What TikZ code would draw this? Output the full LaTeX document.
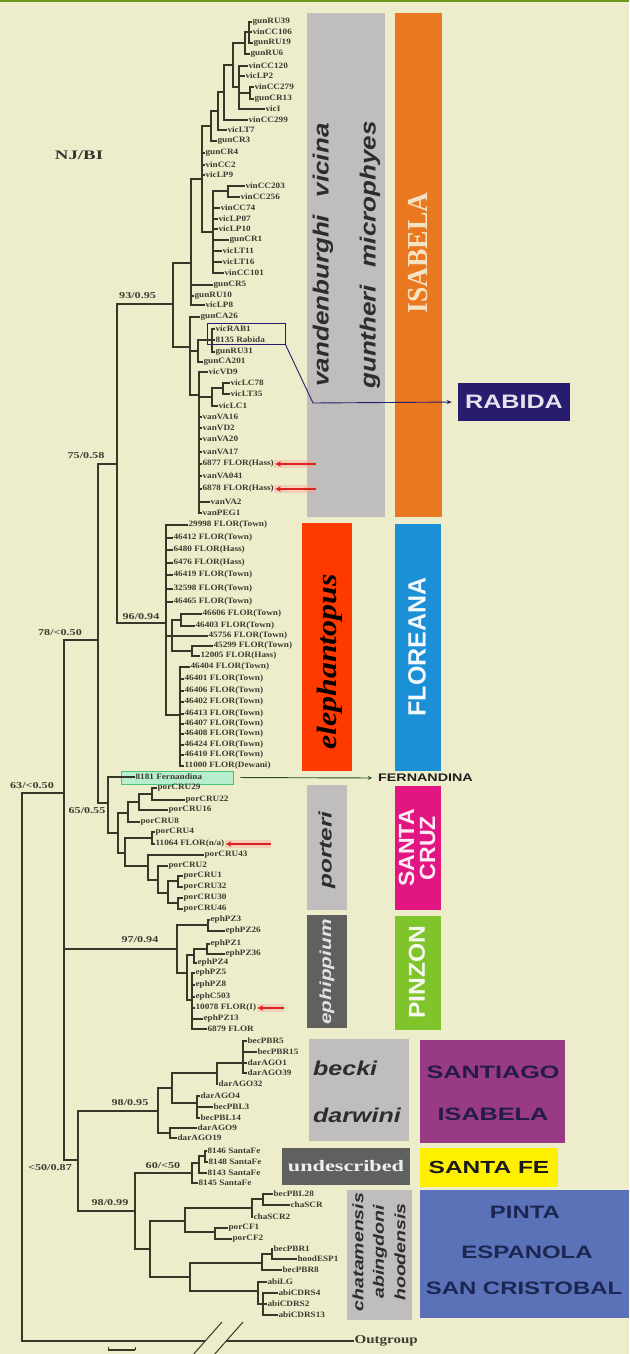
\documentclass[tikz,border=0pt]{standalone}
\usepackage{fontspec}
\usepackage{graphicx}
\usetikzlibrary{arrows.meta}
\newfontfamily\leaffont[FakeStretch=1.12]{Liberation Serif}
\newfontfamily\suppfont[FakeStretch=1.35]{Liberation Serif}
\newfontfamily\serifbig{Liberation Serif}
\newfontfamily\sansbig{Liberation Sans}
\newcommand{\st}[2]{\scalebox{#1}[1]{#2}}
\newcommand{\fsz}[1]{\fontsize{#1}{#1}\selectfont}
\newcommand{\lf}[4]{\node[leaf] (#1) at (#2,#3) {#4};}
\newcommand{\br}[2]{\foreach \c in {#2} {\draw[branch] (#1) |- (\c);}}

\definecolor{bgc}{RGB}{237,237,204}
\definecolor{treec}{RGB}{55,55,42}
\definecolor{leafc}{RGB}{60,60,48}
\definecolor{greyA}{RGB}{192,190,188}
\definecolor{orangeA}{RGB}{233,120,32}
\definecolor{redA}{RGB}{255,58,0}
\definecolor{blueA}{RGB}{28,144,214}
\definecolor{magA}{RGB}{226,22,128}
\definecolor{dgreyA}{RGB}{96,96,94}
\definecolor{greenA}{RGB}{126,196,42}
\definecolor{purpA}{RGB}{152,58,132}
\definecolor{yellowA}{RGB}{255,240,0}
\definecolor{blueB}{RGB}{92,114,184}
\definecolor{navyA}{RGB}{40,28,110}
\definecolor{creamA}{RGB}{245,228,196}
\definecolor{spc}{RGB}{45,45,45}
\definecolor{navyT}{RGB}{36,28,72}
\definecolor{navyP}{RGB}{28,38,82}
\definecolor{mintA}{RGB}{184,238,204}
\definecolor{mintB}{RGB}{70,195,125}
\definecolor{fernc}{RGB}{40,80,40}
\definecolor{redarrc}{RGB}{222,32,32}
\definecolor{topg}{RGB}{110,150,30}

\begin{document}
\begin{tikzpicture}[x=1pt,y=-1pt,
  branch/.style={treec, line width=1.5pt},
  leaf/.style={anchor=west, inner sep=0.4pt, text=leafc, font=\leaffont\bfseries\fontsize{8.2}{9}\selectfont},
  supp/.style={inner sep=0pt, text=leafc, font=\suppfont\bfseries\fontsize{9}{10}\selectfont},
  bar/.style={draw=none, inner sep=0pt},
  vtext/.style={rotate=90, inner sep=0pt},
  redarr/.style={redarrc, line width=1.3pt, -{Stealth[length=5.5pt,width=5.5pt]}, shorten >=1pt},
  glow/.style={red!40, line width=8pt, opacity=0.35, shorten >=0pt},
]
\useasboundingbox (0,0) rectangle (629,1354);
\fill[bgc] (0,0) rectangle (629,1354);
\fill[topg] (0,0) rectangle (629,2.5);

% ---------- coloured bars ----------
\node[bar, fill=greyA, minimum width=78pt, minimum height=504pt] (barVV) at (346,265) {};
\node[bar, fill=orangeA, minimum width=47pt, minimum height=504pt] (barIS) at (418.5,265) {};
\node[bar, fill=redA, minimum width=50pt, minimum height=248pt] (barEL) at (327,647) {};
\node[bar, fill=blueA, minimum width=46pt, minimum height=247pt] (barFL) at (418,647.5) {};
\node[bar, fill=greyA, minimum width=40pt, minimum height=125pt] (barPO) at (327,847.5) {};
\node[bar, fill=magA, minimum width=46pt, minimum height=124pt] (barSC) at (418,848) {};
\node[bar, fill=dgreyA, minimum width=40pt, minimum height=113pt] (barEP) at (327,971.5) {};
\node[bar, fill=greenA, minimum width=46pt, minimum height=114pt] (barPZ) at (418,973) {};
\node[bar, fill=greyA, minimum width=100pt, minimum height=102pt] (barBD) at (359,1090) {};
\node[bar, fill=purpA, minimum width=145pt, minimum height=103pt] (barSI) at (492.5,1091.5) {};
\node[bar, fill=dgreyA, minimum width=128pt, minimum height=37pt] (barUN) at (346,1166.5) {};
\node[bar, fill=yellowA, minimum width=138pt, minimum height=39pt] (barSF) at (489,1167.5) {};
\node[bar, fill=greyA, minimum width=65pt, minimum height=130pt] (barCH) at (379.5,1255) {};
\node[bar, fill=blueB, minimum width=209pt, minimum height=128pt] (barPE) at (524.5,1254) {};

% ---------- bar texts ----------
\node[vtext, text=spc, font=\sansbig\bfseries\itshape\fsz{22}] (tVV) at (323,255) {\st{1.18}{vandenburghi\hspace{15pt}vicina}};
\node[vtext, text=spc, font=\sansbig\bfseries\itshape\fsz{22}] (tGM) at (370,255) {\st{1.18}{guntheri\hspace{15pt}microphyes}};
\node[vtext, text=creamA, font=\serifbig\bfseries\fsz{29}] (tIS) at (418,253) {\st{0.95}{ISABELA}};
\node[vtext, text=black, font=\serifbig\bfseries\itshape\fsz{28}] (tEL) at (330,662) {\st{1.14}{elephantopus}};
\node[vtext, text=white!95!blueA, font=\sansbig\bfseries\fsz{25}] (tFL) at (417,647) {FLOREANA};
\node[vtext, text=spc, font=\sansbig\bfseries\itshape\fsz{18}] (tPO) at (327,850) {\st{1.35}{porteri}};
\node[vtext, align=center, text=white!92!magA, font=\sansbig\bfseries\fontsize{22}{21}\selectfont] (tSC) at (417,848) {\st{1.05}{SANTA}\\\st{1.05}{CRUZ}};
\node[vtext, text=white!82!dgreyA, font=\sansbig\bfseries\itshape\fsz{16}] (tEP) at (327,972) {\st{1.3}{ephippium}};
\node[vtext, text=white!92!greenA, font=\sansbig\bfseries\fsz{23}] (tPZ) at (417,972) {\st{1.07}{PINZON}};
\node[anchor=west, inner sep=0pt, text=spc, font=\sansbig\bfseries\itshape\fsz{20}] (tBE) at (313,1068) {\st{1.25}{becki}};
\node[anchor=west, inner sep=0pt, text=spc, font=\sansbig\bfseries\itshape\fsz{20}] (tDA) at (313,1115) {\st{1.25}{darwini}};
\node[inner sep=0pt, text=navyT, font=\sansbig\bfseries\fsz{18}] (tSA) at (493,1072) {\st{1.4}{SANTIAGO}};
\node[inner sep=0pt, text=navyT, font=\sansbig\bfseries\fsz{18}] (tIS2) at (493,1114) {\st{1.4}{ISABELA}};
\node[inner sep=0pt, text=white!90!dgreyA, font=\serifbig\bfseries\fsz{16}] (tUN) at (346,1166) {\st{1.39}{undescribed}};
\node[inner sep=0pt, text=black!90, font=\sansbig\bfseries\fsz{17.5}] (tSF) at (489,1167) {\st{1.4}{SANTA FE}};
\node[vtext, text=spc, font=\sansbig\bfseries\itshape\fsz{15}] (tCH) at (358,1252) {\st{1.3}{chatamensis}};
\node[vtext, text=spc, font=\sansbig\bfseries\itshape\fsz{15}] (tAB) at (380,1252) {\st{1.3}{abingdoni}};
\node[vtext, text=spc, font=\sansbig\bfseries\itshape\fsz{15}] (tHO) at (400,1252) {\st{1.3}{hoodensis}};
\node[inner sep=0pt, text=navyP, font=\sansbig\bfseries\fsz{18}] (tPI) at (525,1212) {\st{1.33}{PINTA}};
\node[inner sep=0pt, text=navyP, font=\sansbig\bfseries\fsz{18}] (tES) at (527,1252) {\st{1.33}{ESPANOLA}};
\node[inner sep=0pt, text=navyP, font=\sansbig\bfseries\fsz{18}] (tCR) at (524,1288) {\st{1.33}{SAN CRISTOBAL}};

% ---------- RABIDA and FERNANDINA call-outs ----------
\node[fill=navyA, inner sep=0pt, minimum width=112pt, minimum height=38pt, text=white!88!navyA, font=\sansbig\bfseries\fsz{19.5}] (RAB) at (514,402) {\st{1.29}{RABIDA}};
\node[draw=navyA, line width=0.8pt, inner sep=0pt, minimum width=78pt, minimum height=21pt] (rabsel) at (246,333.5) {};
\coordinate (rabbend) at (313,403);
\draw[navyA, line width=0.9pt, -{Stealth[length=5pt,width=4pt]}, shorten >=6pt] (rabsel.south east) -- (rabbend) -- (RAB.west);

\node[fill=mintA, draw=mintB, line width=0.8pt, inner sep=0pt, minimum width=112pt, minimum height=13pt] (fernbox) at (177,777.5) {};
\node[anchor=west, inner sep=0pt, text=black!88, font=\sansbig\bfseries\fsz{11}] (FERN) at (378,778) {\st{1.3}{FERNANDINA}};
\draw[fernc, line width=0.9pt, -{Stealth[length=4pt,width=4pt]}, shorten <=7pt, shorten >=6pt] (fernbox.east) -- (FERN.west);

% ---------- heading ----------
\node[inner sep=0pt, text=black!80, font=\serifbig\bfseries\fsz{13}] (title) at (79,155) {\st{1.45}{NJ/BI}};

% ---------- leaves: vicina / microphyes group ----------
\lf{L1}{252}{22}{gunRU39}
\lf{L2}{252}{32}{vinCC106}
\lf{L3}{253}{43}{gunRU19}
\lf{L4}{250}{54}{gunRU6}
\lf{L5}{248}{66}{vinCC120}
\lf{L6}{245}{76}{vicLP2}
\lf{L7}{254}{87}{vinCC279}
\lf{L8}{254}{99}{gunCR13}
\lf{L9}{265}{109}{vicI}
\lf{L10}{248}{120}{vinCC299}
\lf{L11}{227}{130}{vicLT7}
\lf{L12}{217}{141}{gunCR3}
\lf{L13}{205}{153}{gunCR4}
\lf{L14}{205}{165}{vinCC2}
\lf{L15}{205}{175}{vicLP9}
\lf{L16}{245}{186}{vinCC203}
\lf{L17}{240}{197}{vinCC256}
\lf{L18}{220}{208}{vinCC74}
\lf{L19}{218}{219}{vicLP07}
\lf{L20}{218}{229}{vicLP10}
\lf{L21}{229}{240}{gunCR1}
\lf{L22}{222}{251}{vicLT11}
\lf{L23}{222}{262}{vicLT16}
\lf{L24}{224}{273}{vinCC101}
\lf{L25}{213}{285}{gunCR5}
\lf{L26}{194}{296}{gunRU10}
\lf{L27}{205}{305}{vicLP8}
\lf{L28}{200}{317}{gunCA26}
\lf{L29}{215}{329}{vicRAB1}
\lf{L30}{215}{340}{8135 Rabida}
\lf{L31}{215}{352}{gunRU31}
\lf{L32}{203}{362}{gunCA201}
\lf{L33}{208}{372}{vicVD9}
\lf{L34}{230}{383}{vicLC78}
\lf{L35}{230}{394}{vicLT35}
\lf{L36}{218}{406}{vicLC1}
\lf{L37}{202}{417}{vanVA16}
\lf{L38}{202}{428}{vanVD2}
\lf{L39}{202}{439}{vanVA20}
\lf{L40}{202}{452}{vanVA17}
\lf{L41}{202}{464}{6877 FLOR(Hass)}
\lf{L42}{202}{476}{vanVA041}
\lf{L43}{202}{489}{6878 FLOR(Hass)}
\lf{L44}{210}{502}{vanVA2}
\lf{L45}{202}{513}{vanPEG1}

\coordinate (I0) at (249,32);
\coordinate (I1) at (245,43);
\coordinate (I2) at (239,87);
\coordinate (I3) at (250,93);
\coordinate (I4) at (233,65);
\coordinate (I5) at (224,92);
\coordinate (I6) at (218,111);
\coordinate (I7) at (211,126);
\coordinate (U1) at (202,179);
\coordinate (U2) at (213,232);
\coordinate (U3) at (228,191);
\coordinate (U0) at (191,263);
\coordinate (W0) at (212,340);
\coordinate (W1) at (198,351);
\coordinate (W5) at (223,388);
\coordinate (W4) at (212,397);
\coordinate (W3) at (199,395);
\coordinate (V2) at (190,347);
\coordinate (V0) at (173,304);

\br{I0}{L1.west,L2.west,L3.west}
\br{I1}{I0,L4.west}
\br{I3}{L7.west,L8.west}
\br{I2}{L5.west,L6.west,I3,L9.west}
\br{I4}{I1,I2}
\br{I5}{I4,L10.west}
\br{I6}{I5,L11.west}
\br{I7}{I6,L12.west}
\br{U3}{L16.west,L17.west}
\br{U2}{U3,L18.west,L19.west,L20.west,L21.west,L22.west,L23.west,L24.west}
\br{U1}{I7,L13.west,L14.west,L15.west,U2}
\br{U0}{U1,L25.west,L26.west,L27.west}
\br{W0}{L29.west,L30.west,L31.west}
\br{W1}{W0,L32.west}
\br{W5}{L34.west,L35.west}
\br{W4}{W5,L36.west}
\br{W3}{L33.west,W4,L37.west,L38.west,L39.west,L40.west,L41.west,L42.west,L43.west,L44.west,L45.west}
\br{V2}{L28.west,W1,W3}
\br{V0}{U0,V2}

% ---------- leaves: elephantopus group ----------
\lf{L46}{188}{525}{29998 FLOR(Town)}
\lf{L47}{173}{538}{46412 FLOR(Town)}
\lf{L48}{173}{550}{6480 FLOR(Hass)}
\lf{L49}{173}{563}{6476 FLOR(Hass)}
\lf{L50}{173}{575}{46419 FLOR(Town)}
\lf{L51}{173}{589}{32598 FLOR(Town)}
\lf{L52}{173}{602}{46465 FLOR(Town)}
\lf{L53}{202}{614}{46606 FLOR(Town)}
\lf{L54}{195}{626}{46403 FLOR(Town)}
\lf{L55}{208}{636}{45756 FLOR(Town)}
\lf{L56}{213}{646}{45299 FLOR(Town)}
\lf{L57}{200}{656}{12005 FLOR(Hass)}
\lf{L58}{190}{667}{46404 FLOR(Town)}
\lf{L59}{184}{679}{46401 FLOR(Town)}
\lf{L60}{184}{691}{46406 FLOR(Town)}
\lf{L61}{184}{702}{46402 FLOR(Town)}
\lf{L62}{184}{714}{46413 FLOR(Town)}
\lf{L63}{184}{724}{46407 FLOR(Town)}
\lf{L64}{184}{734}{46408 FLOR(Town)}
\lf{L65}{184}{745}{46424 FLOR(Town)}
\lf{L66}{184}{755}{46410 FLOR(Town)}
\lf{L67}{184}{766}{11000 FLOR(Dewani)}

\coordinate (F1a) at (181,620);
\coordinate (F2) at (192,651);
\coordinate (F1) at (172,636);
\coordinate (F3) at (180,715);
\coordinate (F0) at (166,623);
\coordinate (N75) at (117,464);

\br{F1a}{L53.west,L54.west}
\br{F2}{L56.west,L57.west}
\br{F1}{F1a,L55.west,F2}
\br{F3}{L58.west,L59.west,L60.west,L61.west,L62.west,L63.west,L64.west,L65.west,L66.west,L67.west}
\br{F0}{L46.west,L47.west,L48.west,L49.west,L50.west,L51.west,L52.west,F1,F3}
\br{N75}{V0,F0}

% ---------- leaves: Fernandina and porteri ----------
\lf{Lfern}{135}{777}{8181 Fernandina}
\lf{Lp29}{157}{788}{porCRU29}
\lf{Lp22}{185}{800}{porCRU22}
\lf{Lp16}{168}{810}{porCRU16}
\lf{Lp8}{140}{822}{porCRU8}
\lf{Lp4}{155}{832}{porCRU4}
\lf{Lf11064}{155}{844}{11064 FLOR(n/a)}
\lf{Lp43}{204}{855}{porCRU43}
\lf{Lp2}{168}{866}{porCRU2}
\lf{Lp1}{183}{876}{porCRU1}
\lf{Lp32}{183}{887}{porCRU32}
\lf{Lp30}{183}{898}{porCRU30}
\lf{Lp46}{183}{909}{porCRU46}

\coordinate (P4) at (152,794);
\coordinate (P3) at (139,802);
\coordinate (P2) at (128,813);
\coordinate (P6) at (152,838);
\coordinate (P10) at (178,881);
\coordinate (P11) at (178,903);
\coordinate (P9) at (168,893);
\coordinate (P8) at (158,880);
\coordinate (P7) at (148,866);
\coordinate (P5) at (125,853);
\coordinate (P1) at (118,833);
\coordinate (P0) at (108,803);
\coordinate (N98) at (98,640);

\br{P4}{Lp29.west,Lp22.west}
\br{P3}{P4,Lp16.west}
\br{P2}{P3,Lp8.west}
\br{P6}{Lp4.west,Lf11064.west}
\br{P10}{Lp1.west,Lp32.west}
\br{P11}{Lp30.west,Lp46.west}
\br{P9}{P10,P11}
\br{P8}{Lp2.west,P9}
\br{P7}{Lp43.west,P8}
\br{P5}{P6,P7}
\br{P1}{P2,P5}
\br{P0}{Lfern.west,P1}
\br{N98}{N75,P0}

% ---------- leaves: ephippium ----------
\lf{Le3}{210}{920}{ephPZ3}
\lf{Le26}{225}{931}{ephPZ26}
\lf{Le1}{210}{944}{ephPZ1}
\lf{Le36}{225}{954}{ephPZ36}
\lf{Le4}{197}{963}{ephPZ4}
\lf{Le5}{195}{973}{ephPZ5}
\lf{Le8}{195}{985}{ephPZ8}
\lf{Le503}{195}{997}{ephC503}
\lf{Lf10078}{195}{1008}{10078 FLOR(I)}
\lf{Le13}{203}{1019}{ephPZ13}
\lf{Lf6879}{207}{1029}{6879 FLOR}

\coordinate (EA) at (208,925);
\coordinate (EB) at (207,949);
\coordinate (E2) at (194,955);
\coordinate (E3) at (192,1000);
\coordinate (E1) at (187,973);
\coordinate (E0) at (177,949);

\br{EA}{Le3.west,Le26.west}
\br{EB}{Le1.west,Le36.west}
\br{E2}{EB,Le4.west}
\br{E3}{Le5.west,Le8.west,Le503.west,Lf10078.west,Le13.west,Lf6879.west}
\br{E1}{E2,E3}
\br{E0}{EA,E1}

% ---------- leaves: becki / darwini ----------
\lf{Lb5}{247}{1041}{becPBR5}
\lf{Lb15}{257}{1052}{becPBR15}
\lf{Ld1}{247}{1063}{darAGO1}
\lf{Ld39}{247}{1073}{darAGO39}
\lf{Ld32}{218}{1084}{darAGO32}
\lf{Ld4}{200}{1096}{darAGO4}
\lf{Lbl3}{213}{1107}{becPBL3}
\lf{Lbl14}{200}{1118}{becPBL14}
\lf{Ld9}{197}{1128}{darAGO9}
\lf{Ld19}{177}{1138}{darAGO19}

\coordinate (D3) at (243,1063);
\coordinate (D2) at (217,1073);
\coordinate (D4) at (197,1103);
\coordinate (D1) at (172,1088);
\coordinate (D5) at (170,1133);
\coordinate (D0) at (158,1111);

\br{D3}{Lb5.west,Lb15.west,Ld1.west,Ld39.west}
\br{D2}{D3,Ld32.west}
\br{D4}{Ld4.west,Lbl3.west,Lbl14.west}
\br{D1}{D2,D4}
\br{D5}{Ld9.west,Ld19.west}
\br{D0}{D1,D5}

% ---------- leaves: Santa Fe and the southern/eastern islands ----------
\lf{Ls46}{207}{1151}{8146 SantaFe}
\lf{Ls48}{208}{1162}{8148 SantaFe}
\lf{Ls43}{207}{1173}{8143 SantaFe}
\lf{Ls45}{198}{1183}{8145 SantaFe}
\lf{Lbl28}{273}{1194}{becPBL28}
\lf{Lcs}{290}{1205}{chaSCR}
\lf{Lcs2}{253}{1217}{chaSCR2}
\lf{Lcf1}{228}{1228}{porCF1}
\lf{Lcf2}{232}{1239}{porCF2}
\lf{Lbr1}{273}{1249}{becPBR1}
\lf{Lhe1}{297}{1259}{hoodESP1}
\lf{Lbr8}{282}{1270}{becPBR8}
\lf{Lalg}{267}{1282}{abiLG}
\lf{Lac4}{278}{1293}{abiCDRS4}
\lf{Lac2}{267}{1304}{abiCDRS2}
\lf{Lac13}{278}{1315}{abiCDRS13}

\coordinate (S1c) at (205,1156);
\coordinate (S1b) at (199,1163);
\coordinate (S1) at (192,1173);
\coordinate (S4a) at (263,1199);
\coordinate (S4) at (252,1208);
\coordinate (S5) at (215,1232);
\coordinate (S3) at (185,1221);
\coordinate (S7a) at (272,1254);
\coordinate (S7) at (262,1263);
\coordinate (S8a) at (263,1304);
\coordinate (S8) at (258,1291);
\coordinate (S6) at (190,1277);
\coordinate (S2) at (150,1249);
\coordinate (S0) at (135,1211);
\coordinate (Q0) at (78,1160);

\br{S1c}{Ls46.west,Ls48.west}
\br{S1b}{S1c,Ls43.west}
\br{S1}{S1b,Ls45.west}
\br{S4a}{Lbl28.west,Lcs.west}
\br{S4}{S4a,Lcs2.west}
\br{S5}{Lcf1.west,Lcf2.west}
\br{S3}{S4,S5}
\br{S7a}{Lbr1.west,Lhe1.west}
\br{S7}{S7a,Lbr8.west}
\br{S8a}{Lac4.west,Lac2.west,Lac13.west}
\br{S8}{Lalg.west,S8a}
\br{S6}{S7,S8}
\br{S2}{S3,S6}
\br{S0}{S1,S2}
\br{Q0}{D0,S0}

% ---------- ingroup, root and outgroup ----------
\coordinate (IN) at (64,793);
\coordinate (R) at (22,1066);
\node[anchor=west, inner sep=0.5pt, text=leafc, font=\serifbig\bfseries\fsz{12}] (Out) at (354,1341) {\st{1.25}{Outgroup}};
\br{IN}{N98,E0,Q0}
\br{R}{IN,Out.west}

% break on the outgroup branch
\coordinate (sl1a) at (192,1356);
\coordinate (sl1b) at (222,1322);
\coordinate (sl2a) at (213,1356);
\coordinate (sl2b) at (243,1322);
\fill[bgc] (sl1a) -- (sl1b) -- (sl2b) -- (sl2a) -- cycle;
\draw[treec, line width=1pt] (sl1a) -- (sl1b);
\draw[treec, line width=1pt] (sl2a) -- (sl2b);

% scale bar
\coordinate (sb1) at (108,1350);
\coordinate (sb2) at (135,1350);
\draw[treec, line width=1.6pt] (sb1) -- (sb2);
\draw[treec, line width=1pt] (sb1) -- ++(0,-3);
\draw[treec, line width=1pt] (sb2) -- ++(0,-3);

% ---------- support values ----------
\node[supp, anchor=west] (s93) at (119,296) {93/0.95};
\node[supp] (s75) at (86,456) {75/0.58};
\node[supp] (s96) at (141,617) {96/0.94};
\node[supp] (s78) at (60,633) {78/<0.50};
\node[supp] (s63) at (32,786) {63/<0.50};
\node[supp] (s65) at (87,811) {65/0.55};
\node[supp] (s97) at (140,940) {97/0.94};
\node[supp] (s98a) at (130,1103) {98/0.95};
\node[supp] (s50) at (50,1168) {<50/0.87};
\node[supp] (s60) at (163,1166) {60/<50};
\node[supp] (s98b) at (110,1203) {98/0.99};

% ---------- historical Floreana samples ----------
\coordinate (ra1) at (316,464);
\coordinate (ra2) at (316,489);
\coordinate (ra3) at (271,844);
\coordinate (ra4) at (284,1008);
\foreach \t/\h in {ra1/L41,ra2/L43,ra3/Lf11064,ra4/Lf10078} {
  \draw[glow] (\t) -- (\h.east);
  \draw[redarr] (\t) -- (\h.east);
}
\end{tikzpicture}
\end{document}
